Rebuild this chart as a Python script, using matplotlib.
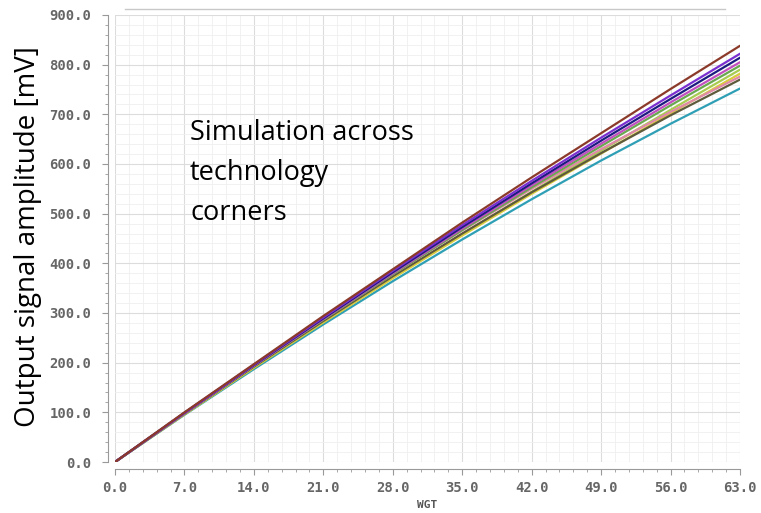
import matplotlib
matplotlib.use("Agg")
import matplotlib.pyplot as plt
from matplotlib.ticker import MultipleLocator, FormatStrFormatter
from matplotlib.lines import Line2D

# sweep values (WGT) and output amplitude for each technology corner [mV]
wgt = [0, 7, 14, 21, 28, 35, 42, 49, 56, 63]

corner_brown = [0, 100, 197, 294, 388, 482, 573, 662, 751, 838]
corner_purple = [0, 99, 196, 291, 385, 477, 566, 653, 738, 822]
corner_navy = [0, 99, 195, 289, 382, 473, 561, 647, 731, 814]
corner_magenta = [0, 98, 194, 288, 380, 470, 557, 641, 724, 805]
corner_green = [0, 98, 194, 287, 378, 467, 553, 636, 718, 798]
corner_lime = [0, 96, 190, 282, 372, 459, 544, 627, 709, 790]
corner_yellow = [0, 96, 190, 281, 370, 456, 540, 621, 702, 782]
corner_pink = [0, 98, 194, 287, 378, 466, 550, 630, 705, 776]
corner_olive = [0, 97, 192, 284, 374, 460, 543, 622, 698, 770]
corner_teal = [0, 95, 187, 277, 364, 448, 529, 607, 681, 752]

corners = [
    (corner_teal, "#2f9fb5"),
    (corner_lime, "#a8cc50"),
    (corner_yellow, "#d9cc3c"),
    (corner_olive, "#5e5a3c"),
    (corner_pink, "#e08aa8"),
    (corner_green, "#6aa84f"),
    (corner_magenta, "#c24fc0"),
    (corner_navy, "#1c1c80"),
    (corner_purple, "#7a2fd0"),
    (corner_brown, "#8b3a2a"),
]

fig = plt.figure(figsize=(7.61, 5.13), dpi=100)
ax = fig.add_axes([115 / 761, 51 / 513, 625 / 761, 447 / 513])

for vals, col in corners:
    ax.plot(wgt, vals, color=col, linewidth=1.6, solid_capstyle="round")

ax.set_xlim(0, 63)
ax.set_ylim(0, 900)
ax.xaxis.set_major_locator(MultipleLocator(7))
ax.xaxis.set_minor_locator(MultipleLocator(1.4))
ax.yaxis.set_major_locator(MultipleLocator(100))
ax.yaxis.set_minor_locator(MultipleLocator(20))
ax.xaxis.set_major_formatter(FormatStrFormatter("%.1f"))
ax.yaxis.set_major_formatter(FormatStrFormatter("%.1f"))

ax.grid(which="major", color="#dcdcdc", linewidth=0.8)
ax.grid(which="minor", color="#efefef", linewidth=0.6)
ax.set_axisbelow(True)

for s in ["top", "right"]:
    ax.spines[s].set_visible(False)
ax.spines["left"].set_position(("outward", 5))
ax.spines["bottom"].set_position(("outward", 5))
ax.spines["left"].set_color("#999999")
ax.spines["bottom"].set_color("#999999")

ax.tick_params(which="both", colors="#999999", labelcolor="#666666",
               direction="out", labelsize=10)
ax.tick_params(which="major", length=4)
ax.tick_params(which="minor", length=2.5)
ax.tick_params(axis="x", pad=5)
ax.tick_params(axis="y", pad=8)
for lab in ax.get_xticklabels() + ax.get_yticklabels():
    lab.set_family("DejaVu Sans Mono")
    lab.set_weight("bold")

fig.text(427 / 761, 1 - 505 / 513, "WGT", ha="center", va="center",
         fontsize=8, family="DejaVu Sans Mono", weight="bold",
         color="#555555")

fig.text(28 / 761, 1 - 237 / 513, "Output signal amplitude [mV]",
         rotation=90, ha="center", va="center", fontsize=20,
         family="Open Sans", color="black")

fig.text(190 / 761, 1 - 173 / 513, "Simulation across\ntechnology\ncorners",
         ha="left", va="center", fontsize=19.5,
         family="Open Sans", linespacing=1.55)

fig.add_artist(Line2D([125 / 761, 725 / 761], [1 - 9 / 513, 1 - 9 / 513],
                      color="#c8c8c8", linewidth=1))

fig.savefig("out.png", dpi=100)
